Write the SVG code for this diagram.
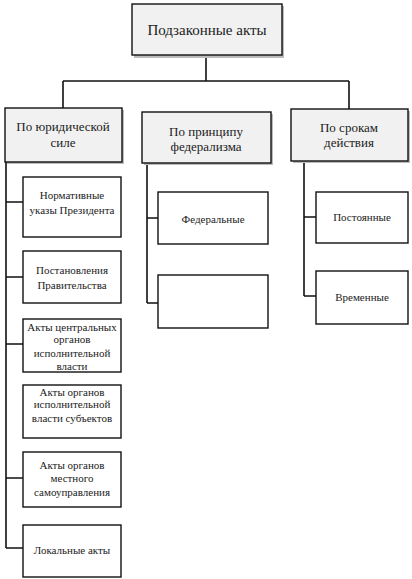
<svg xmlns="http://www.w3.org/2000/svg" width="412" height="579" viewBox="0 0 412 579">
<style>
.box{fill:#fff;stroke:#111;stroke-width:1.4}
.gbox{fill:#f1f1f1;stroke:#111;stroke-width:1.4}
.sh{fill:#bbb}
.ln{fill:none;stroke:#111;stroke-width:1.6}
</style>
<rect width="412" height="579" fill="#fff"/>
<g id="connectors">
<path class="ln" d="M206 55 V81 M63 81 H349 M63 81 V108 M349 81 V109"/>
<path class="ln" d="M6 162 V548 M6 202 H23 M6 277 H23 M6 344 H23 M6 478 H23 M6 548 H23"/>
<path class="ln" d="M147 163 V303 M147 218 H158 M147 303 H158"/>
<path class="ln" d="M304 161 V296 M304 217 H316 M304 296 H316"/>
</g>
<g id="root">
<rect class="sh" x="134" y="6" width="150" height="52"/>
<rect class="gbox" x="132" y="4" width="150" height="51"/>
<text x="207" y="35" font-family="Liberation Serif" font-size="15" text-anchor="middle" fill="#222">Подзаконные акты</text>
</g>
<g id="cat1">
<rect class="sh" x="7" y="110" width="117" height="54"/>
<rect class="gbox" x="5" y="108" width="117" height="54"/>
<text x="63" y="131" font-family="Liberation Serif" font-size="13" text-anchor="middle" fill="#222">По юридической</text>
<text x="63" y="147" font-family="Liberation Serif" font-size="13" text-anchor="middle" fill="#222">силе</text>
</g>
<g id="cat2">
<rect class="sh" x="144" y="114" width="129" height="51"/>
<rect class="gbox" x="142" y="112" width="129" height="51"/>
<text x="206" y="136" font-family="Liberation Serif" font-size="13" text-anchor="middle" fill="#222">По принципу</text>
<text x="206" y="151" font-family="Liberation Serif" font-size="13" text-anchor="middle" fill="#222">федерализма</text>
</g>
<g id="cat3">
<rect class="sh" x="293" y="111" width="117" height="52"/>
<rect class="gbox" x="291" y="109" width="117" height="52"/>
<text x="349" y="132" font-family="Liberation Serif" font-size="13" text-anchor="middle" fill="#222">По срокам</text>
<text x="349" y="147" font-family="Liberation Serif" font-size="13" text-anchor="middle" fill="#222">действия</text>
</g>
<g id="n1">
<rect class="box" x="23" y="177" width="98" height="60"/>
<text x="72" y="199" font-family="Liberation Serif" font-size="11" text-anchor="middle" fill="#222">Нормативные</text>
<text x="72" y="214" font-family="Liberation Serif" font-size="11" text-anchor="middle" fill="#222">указы Президента</text>
</g>
<g id="n2">
<rect class="box" x="23" y="251" width="98" height="52"/>
<text x="72" y="274" font-family="Liberation Serif" font-size="11" text-anchor="middle" fill="#222">Постановления</text>
<text x="72" y="289" font-family="Liberation Serif" font-size="11" text-anchor="middle" fill="#222">Правительства</text>
</g>
<g id="n3">
<rect class="box" x="23" y="319" width="98" height="53"/>
<text x="72" y="331" font-family="Liberation Serif" font-size="11" text-anchor="middle" fill="#222">Акты центральных</text>
<text x="72" y="343" font-family="Liberation Serif" font-size="11" text-anchor="middle" fill="#222">органов</text>
<text x="72" y="357" font-family="Liberation Serif" font-size="11" text-anchor="middle" fill="#222">исполнительной</text>
<text x="72" y="370" font-family="Liberation Serif" font-size="11" text-anchor="middle" fill="#222">власти</text>
</g>
<g id="n4">
<rect class="box" x="23" y="385" width="98" height="53"/>
<text x="72" y="396" font-family="Liberation Serif" font-size="11" text-anchor="middle" fill="#222">Акты органов</text>
<text x="72" y="408" font-family="Liberation Serif" font-size="11" text-anchor="middle" fill="#222">исполнительной</text>
<text x="72" y="422" font-family="Liberation Serif" font-size="11" text-anchor="middle" fill="#222">власти субъектов</text>
</g>
<g id="n5">
<rect class="box" x="23" y="452" width="98" height="55"/>
<text x="72" y="469" font-family="Liberation Serif" font-size="11" text-anchor="middle" fill="#222">Акты органов</text>
<text x="72" y="482" font-family="Liberation Serif" font-size="11" text-anchor="middle" fill="#222">местного</text>
<text x="72" y="496" font-family="Liberation Serif" font-size="11" text-anchor="middle" fill="#222">самоуправления</text>
</g>
<g id="n6">
<rect class="box" x="23" y="525" width="98" height="52"/>
<text x="72" y="554" font-family="Liberation Serif" font-size="11" text-anchor="middle" fill="#222">Локальные акты</text>
</g>
<g id="m1">
<rect class="box" x="158" y="192" width="110" height="52"/>
<text x="213" y="223" font-family="Liberation Serif" font-size="11" text-anchor="middle" fill="#222">Федеральные</text>
</g>
<g id="m2">
<rect class="box" x="158" y="275" width="110" height="53"/>
</g>
<g id="r1">
<rect class="box" x="316" y="192" width="92" height="51"/>
<text x="362" y="221" font-family="Liberation Serif" font-size="11" text-anchor="middle" fill="#222">Постоянные</text>
</g>
<g id="r2">
<rect class="box" x="316" y="271" width="92" height="53"/>
<text x="362" y="301" font-family="Liberation Serif" font-size="11" text-anchor="middle" fill="#222">Временные</text>
</g>
</svg>
